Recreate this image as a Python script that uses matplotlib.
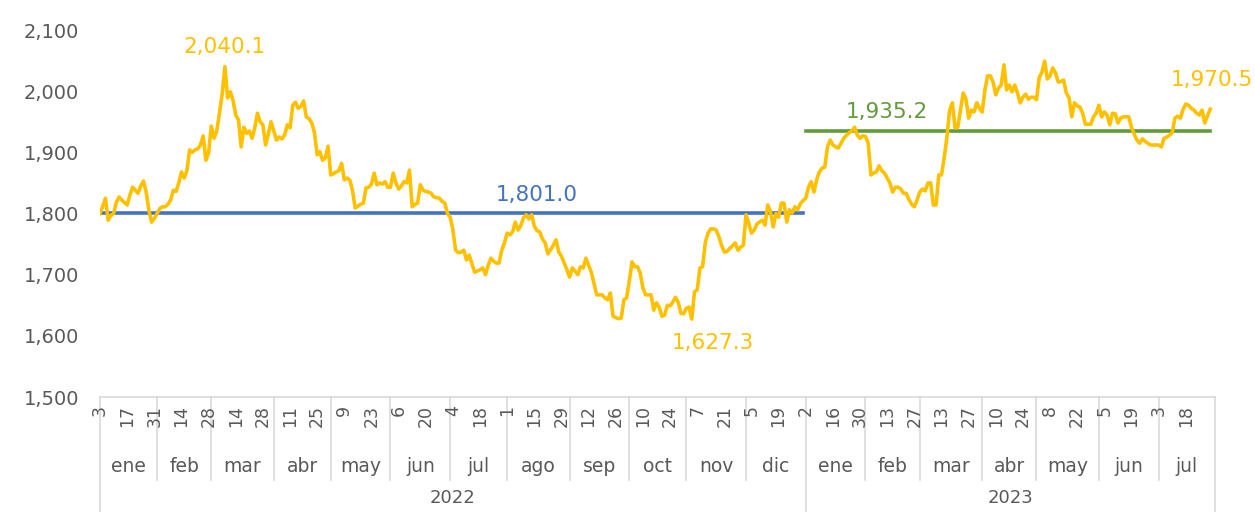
import matplotlib.pyplot as plt
import pandas as pd

# precio diario (dias habiles), filas de 10 valores = una etiqueta del eje
precio_2022 = [
    1800, 1812, 1825, 1789, 1797, 1800, 1818, 1827, 1822, 1818,
    1814, 1830, 1843, 1838, 1833, 1845, 1853, 1835, 1805, 1786,
    1792, 1800, 1808, 1811, 1811, 1815, 1822, 1838, 1836, 1850,
    1868, 1858, 1870, 1904, 1900, 1904, 1906, 1912, 1927, 1887,
    1899, 1943, 1923, 1935, 1964, 1995, 2040.1, 1989, 1999, 1985,
    1961, 1953, 1909, 1941, 1931, 1935, 1923, 1940, 1964, 1950,
    1945, 1912, 1930, 1950, 1935, 1920, 1925, 1922, 1928, 1945,
    1940, 1977, 1982, 1972, 1975, 1984, 1958, 1955, 1948, 1932,
    1896, 1901, 1887, 1891, 1910, 1863, 1865, 1868, 1870, 1882,
    1855, 1858, 1855, 1838, 1809, 1812, 1815, 1817, 1842, 1843,
    1848, 1866, 1847, 1850, 1848, 1852, 1843, 1843, 1866, 1850,
    1840, 1845, 1852, 1850, 1871, 1811, 1815, 1817, 1847, 1838,
    1836, 1835, 1833, 1827, 1826, 1825, 1820, 1817, 1800, 1794,
    1773, 1740, 1736, 1737, 1740, 1724, 1732, 1718, 1704, 1706,
    1708, 1711, 1700, 1715, 1727, 1722, 1719, 1719, 1740, 1752,
    1768, 1765, 1770, 1786, 1773, 1780, 1793, 1798, 1791, 1798,
    1779, 1772, 1770, 1758, 1752, 1734, 1741, 1748, 1757, 1737,
    1730, 1719, 1708, 1696, 1711, 1706, 1700, 1713, 1711, 1727,
    1715, 1704, 1685, 1667, 1667, 1667, 1662, 1659, 1670, 1632,
    1630, 1628, 1629, 1659, 1662, 1690, 1721, 1713, 1713, 1703,
    1678, 1667, 1667, 1667, 1642, 1654, 1647, 1632, 1634, 1650,
    1649, 1655, 1663, 1655, 1637, 1636, 1645, 1647, 1627.3, 1672,
    1675, 1711, 1713, 1753, 1768, 1775, 1775, 1773, 1762, 1748,
    1737, 1738, 1743, 1747, 1752, 1740, 1745, 1748, 1798, 1784,
    1768, 1773, 1783, 1786, 1789, 1781, 1814, 1803, 1778, 1800,
    1794, 1817, 1817, 1786, 1806, 1801, 1811, 1806, 1816, 1821,
]
precio_2023 = [
    1825, 1843, 1852, 1835, 1855, 1868, 1874, 1876, 1909, 1920,
    1912, 1909, 1907, 1915, 1923, 1928, 1932, 1935, 1941, 1928,
    1923, 1927, 1926, 1915, 1863, 1866, 1868, 1878, 1870, 1866,
    1858, 1850, 1835, 1843, 1843, 1840, 1833, 1833, 1823, 1815,
    1811, 1822, 1835, 1840, 1837, 1850, 1850, 1814, 1814, 1863,
    1863, 1891, 1925, 1969, 1981, 1940, 1941, 1969, 1997, 1987,
    1956, 1969, 1966, 1981, 1972, 1966, 2002, 2025, 2025, 2015,
    1994, 2005, 2010, 2043, 2002, 2010, 1999, 2010, 1997, 1981,
    1990, 1995, 1987, 1990, 1990, 1986, 2022, 2031, 2049, 2020,
    2025, 2038, 2030, 2015, 2016, 2018, 1997, 1989, 1958, 1981,
    1976, 1974, 1964, 1946, 1946, 1946, 1958, 1964, 1977, 1958,
    1966, 1961, 1945, 1964, 1963, 1948, 1956, 1958, 1958, 1958,
    1941, 1930, 1920, 1915, 1922, 1918, 1915, 1912, 1912, 1912,
    1912, 1909, 1923, 1925, 1928, 1932, 1956, 1959, 1956, 1970,
    1979, 1977, 1972, 1969, 1964, 1961, 1969, 1948, 1960, 1970.5,
]
promedio_2022 = 1801.0
promedio_2023 = 1935.2
meses = ["ene", "feb", "mar", "abr", "may", "jun",
         "jul", "ago", "sep", "oct", "nov", "dic"]
y_ticks = [1500, 1600, 1700, 1800, 1900, 2000, 2100]

fechas = pd.bdate_range("2022-01-03", "2023-07-31")
fechas = fechas[fechas != pd.Timestamp("2023-07-04")]
precio = precio_2022 + precio_2023
x = list(range(len(precio)))
n22 = len(precio_2022)

oro = "#FFC000"
azul = "#4472C4"
verde = "#629B3A"
gris = "#595959"
linea = "#D9D9D9"

plt.rcParams["font.family"] = ["DejaVu Sans"]

fig = plt.figure(figsize=(12.55, 5.12), dpi=100)
ax = fig.add_axes([0.0797, 0.2246, 0.8885, 0.7168])

ax.plot(x, precio, color=oro, lw=2.6, zorder=3)
ax.plot([0, n22 - 1], [promedio_2022] * 2, color=azul, lw=2.6, zorder=2)
ax.plot([n22, len(x) - 1], [promedio_2023] * 2, color=verde, lw=2.6, zorder=2)

ax.set_ylim(1500, 2100)
ax.set_xlim(0, 410.8)
ax.set_yticks(y_ticks)
ax.set_yticklabels([f"{v:,}" for v in y_ticks], fontsize=14, color=gris)
ax.tick_params(axis="y", length=0, pad=15)
ax.set_xticks([])
for s in ["top", "right", "left"]:
    ax.spines[s].set_visible(False)
ax.spines["bottom"].set_color(linea)
ax.spines["bottom"].set_linewidth(1.2)

# etiquetas de datos
i_max = precio_2022.index(max(precio_2022))
i_min = precio_2022.index(min(precio_2022))
ax.annotate(f"{precio[i_max]:,.1f}", (i_max, precio[i_max]), xytext=(0, 7),
            textcoords="offset points", ha="center", va="bottom", color=oro, fontsize=15.5)
ax.annotate(f"{precio[i_min]:,.1f}", (i_min, precio[i_min]), xytext=(15, -10),
            textcoords="offset points", ha="center", va="top", color=oro, fontsize=15.5)
ax.annotate(f"{precio[-1]:,.1f}", (len(x) - 1, precio[-1]), xytext=(1, 14),
            textcoords="offset points", ha="center", va="bottom", color=oro, fontsize=15.5)
ax.annotate(f"{promedio_2022:,.1f}", (161, promedio_2022), xytext=(0, 6),
            textcoords="offset points", ha="center", va="bottom", color=azul, fontsize=15.5)
ax.annotate(f"{promedio_2023:,.1f}", (n22 + 30, promedio_2023), xytext=(0, 6),
            textcoords="offset points", ha="center", va="bottom", color=verde, fontsize=15.5)

# eje de categorias en tres niveles
tr = ax.get_xaxis_transform()
for i in range(0, len(x), 10):
    ax.text(i, -0.022, str(fechas[i].day), rotation=90, ha="center", va="top",
            fontsize=12.5, color=gris, transform=tr, clip_on=False)

inicio_mes = [i for i in range(len(x)) if i == 0 or fechas[i].month != fechas[i - 1].month]
limites = inicio_mes + [410.8]
for k in range(len(inicio_mes)):
    a, b = limites[k], limites[k + 1]
    ax.text((a + b) / 2, -0.19, meses[fechas[inicio_mes[k]].month - 1], ha="center",
            va="center", fontsize=13.5, color=gris, transform=tr, clip_on=False)
    bajo = -0.32 if (a == 0 or a == n22) else -0.226
    ax.plot([a, a], [0, bajo], color=linea, lw=1.2, transform=tr, clip_on=False)
ax.plot([410.8, 410.8], [0, -0.32], color=linea, lw=1.2, transform=tr, clip_on=False)

for a, b, anio in [(0, n22, "2022"), (n22, 410.8, "2023")]:
    ax.text((a + b) / 2, -0.25, anio, ha="center", va="top", fontsize=13,
            color=gris, transform=tr, clip_on=False)

fig.savefig("out.png", dpi=100)
